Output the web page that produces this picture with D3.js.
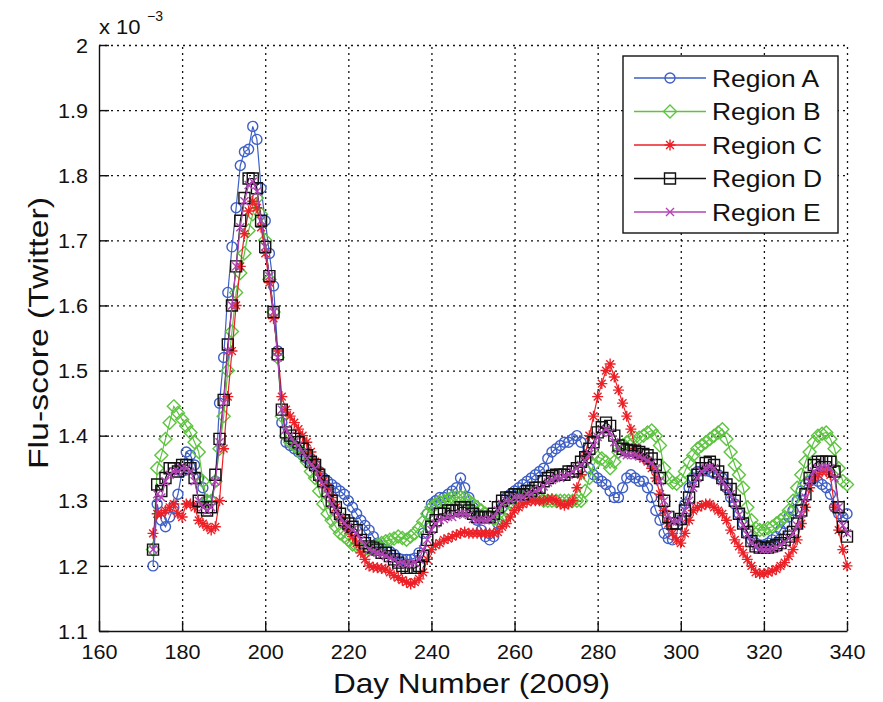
<!DOCTYPE html>
<html><head><meta charset="utf-8">
<script src="https://cdn.jsdelivr.net/npm/d3@7"></script>
<style>
body{margin:0;background:#fff}
svg{display:block}
text{font-family:"Liberation Sans",Arial,Helvetica,sans-serif;fill:#111}
</style>
</head><body>
<svg id="chart" width="883" height="702"></svg>
<script>
// ---------- data (values in units of 1e-3) ----------
const startDay = 173;
const regionA = [
1.20,1.295,1.27,1.26,1.275,1.29,1.31,1.345,1.375,1.37,
1.355,1.335,1.32,1.30,1.30,1.33,1.45,1.52,1.62,1.69,
1.75,1.815,1.836,1.84,1.875,1.855,1.78,1.73,1.68,1.63,
1.53,1.42,1.39,1.385,1.38,1.375,1.37,1.365,1.36,1.355,
1.345,1.335,1.33,1.325,1.32,1.315,1.31,1.30,1.29,1.28,
1.27,1.262,1.255,1.245,1.235,1.228,1.225,1.222,1.218,1.212,
1.21,1.21,1.21,1.212,1.22,1.25,1.28,1.295,1.30,1.305,
1.305,1.31,1.315,1.32,1.335,1.32,1.305,1.29,1.27,1.255,
1.245,1.24,1.245,1.265,1.29,1.305,1.31,1.315,1.32,1.325,
1.33,1.335,1.34,1.345,1.35,1.365,1.375,1.38,1.385,1.39,
1.39,1.395,1.40,1.39,1.37,1.35,1.34,1.335,1.33,1.325,
1.315,1.305,1.305,1.32,1.335,1.34,1.335,1.33,1.33,1.32,
1.305,1.285,1.27,1.25,1.242,1.24,1.25,1.27,1.295,1.32,
1.335,1.345,1.346,1.346,1.345,1.342,1.34,1.335,1.32,1.305,
1.295,1.28,1.265,1.25,1.24,1.235,1.232,1.232,1.235,1.24,
1.245,1.255,1.265,1.275,1.285,1.30,1.315,1.325,1.33,1.335,
1.33,1.325,1.32,1.31,1.29,1.28,1.275,1.28];
const regionB = [
1.225,1.35,1.37,1.395,1.42,1.445,1.435,1.425,1.415,1.405,
1.39,1.375,1.33,1.30,1.30,1.33,1.38,1.43,1.50,1.56,
1.62,1.65,1.68,1.715,1.74,1.765,1.74,1.70,1.64,1.59,
1.52,1.43,1.40,1.39,1.385,1.38,1.37,1.36,1.345,1.335,
1.315,1.295,1.28,1.27,1.26,1.25,1.245,1.24,1.233,1.23,
1.228,1.225,1.225,1.228,1.232,1.235,1.238,1.24,1.242,1.245,
1.243,1.24,1.245,1.25,1.258,1.268,1.28,1.29,1.295,1.298,
1.30,1.302,1.305,1.305,1.305,1.305,1.30,1.295,1.29,1.285,
1.28,1.275,1.272,1.27,1.275,1.285,1.295,1.30,1.305,1.305,
1.31,1.31,1.31,1.305,1.30,1.30,1.30,1.30,1.30,1.30,
1.30,1.30,1.30,1.30,1.315,1.335,1.355,1.367,1.365,1.36,
1.35,1.36,1.375,1.385,1.39,1.395,1.397,1.397,1.40,1.405,
1.408,1.40,1.385,1.35,1.335,1.328,1.326,1.332,1.345,1.36,
1.37,1.38,1.385,1.39,1.395,1.40,1.405,1.41,1.395,1.375,
1.355,1.34,1.32,1.29,1.27,1.258,1.255,1.255,1.258,1.26,
1.265,1.27,1.275,1.285,1.30,1.32,1.34,1.36,1.375,1.39,
1.40,1.403,1.405,1.395,1.38,1.35,1.33,1.325];
const regionC = [
1.25,1.28,1.28,1.285,1.29,1.295,1.28,1.275,1.295,1.295,
1.29,1.27,1.265,1.26,1.255,1.26,1.30,1.38,1.46,1.53,
1.60,1.66,1.71,1.745,1.76,1.75,1.72,1.68,1.635,1.58,
1.53,1.46,1.44,1.43,1.42,1.41,1.40,1.39,1.375,1.36,
1.345,1.33,1.32,1.305,1.29,1.275,1.265,1.255,1.245,1.235,
1.22,1.21,1.20,1.198,1.197,1.196,1.195,1.19,1.185,1.182,
1.178,1.175,1.172,1.175,1.18,1.19,1.21,1.225,1.232,1.235,
1.24,1.242,1.245,1.248,1.25,1.252,1.25,1.25,1.25,1.25,
1.25,1.25,1.25,1.252,1.26,1.265,1.275,1.285,1.29,1.295,
1.298,1.30,1.30,1.30,1.30,1.302,1.303,1.30,1.295,1.293,
1.295,1.30,1.32,1.34,1.37,1.40,1.43,1.46,1.48,1.50,
1.51,1.49,1.47,1.45,1.43,1.41,1.38,1.37,1.365,1.36,
1.35,1.335,1.31,1.285,1.265,1.25,1.24,1.235,1.25,1.27,
1.285,1.29,1.292,1.295,1.295,1.29,1.285,1.28,1.27,1.255,
1.24,1.23,1.22,1.21,1.20,1.19,1.188,1.188,1.19,1.192,
1.195,1.20,1.205,1.215,1.225,1.24,1.265,1.29,1.32,1.335,
1.34,1.345,1.345,1.34,1.29,1.255,1.225,1.20];
const regionD = [
1.225,1.325,1.315,1.335,1.35,1.35,1.345,1.355,1.355,1.35,
1.335,1.30,1.29,1.285,1.29,1.34,1.395,1.455,1.54,1.60,
1.66,1.73,1.765,1.795,1.795,1.78,1.73,1.69,1.645,1.59,
1.525,1.44,1.405,1.40,1.395,1.39,1.38,1.37,1.36,1.355,
1.34,1.33,1.315,1.30,1.29,1.28,1.27,1.265,1.26,1.255,
1.24,1.235,1.23,1.228,1.225,1.22,1.22,1.215,1.21,1.205,
1.20,1.197,1.197,1.197,1.20,1.215,1.24,1.26,1.27,1.28,
1.28,1.285,1.285,1.285,1.29,1.29,1.285,1.28,1.275,1.275,
1.275,1.275,1.28,1.29,1.30,1.305,1.305,1.31,1.31,1.31,
1.315,1.315,1.32,1.32,1.33,1.335,1.338,1.34,1.34,1.34,
1.345,1.345,1.35,1.36,1.367,1.38,1.39,1.405,1.413,1.42,
1.415,1.40,1.385,1.38,1.378,1.377,1.377,1.375,1.372,1.37,
1.365,1.355,1.335,1.30,1.275,1.265,1.265,1.272,1.285,1.305,
1.33,1.34,1.35,1.358,1.36,1.355,1.345,1.335,1.325,1.318,
1.30,1.28,1.265,1.252,1.238,1.23,1.228,1.228,1.228,1.23,
1.232,1.235,1.24,1.245,1.252,1.265,1.285,1.31,1.335,1.355,
1.36,1.36,1.36,1.36,1.345,1.29,1.26,1.245];
const regionE = [
1.225,1.31,1.305,1.33,1.34,1.345,1.345,1.35,1.35,1.345,
1.33,1.30,1.29,1.285,1.29,1.33,1.39,1.45,1.53,1.60,
1.66,1.72,1.76,1.785,1.79,1.775,1.73,1.69,1.645,1.59,
1.52,1.44,1.41,1.40,1.39,1.385,1.375,1.365,1.355,1.35,
1.335,1.325,1.31,1.295,1.285,1.275,1.265,1.26,1.255,1.25,
1.24,1.232,1.225,1.222,1.22,1.218,1.215,1.212,1.21,1.205,
1.205,1.203,1.203,1.205,1.21,1.225,1.24,1.255,1.265,1.27,
1.272,1.275,1.275,1.278,1.28,1.28,1.278,1.272,1.27,1.27,
1.27,1.272,1.275,1.285,1.295,1.30,1.30,1.305,1.305,1.305,
1.31,1.31,1.315,1.318,1.322,1.328,1.332,1.335,1.335,1.338,
1.34,1.345,1.35,1.355,1.362,1.372,1.385,1.398,1.405,1.41,
1.405,1.39,1.38,1.372,1.37,1.37,1.37,1.368,1.365,1.362,
1.358,1.35,1.33,1.30,1.278,1.268,1.268,1.272,1.285,1.30,
1.32,1.335,1.345,1.35,1.352,1.35,1.34,1.33,1.32,1.31,
1.295,1.278,1.262,1.248,1.236,1.23,1.226,1.225,1.225,1.226,
1.228,1.232,1.236,1.242,1.25,1.262,1.28,1.305,1.33,1.345,
1.35,1.352,1.352,1.35,1.335,1.29,1.262,1.25];

const seriesNames = ["Region A","Region B","Region C","Region D","Region E"];
const seriesColors = ["#3e5fc6","#5cc43e","#ec2027","#111111","#b244b4"];
const seriesMarkers = ["circle","diamond","star","square","cross"];
const xTicks = [160,180,200,220,240,260,280,300,320,340];
const yTicks = [1.1,1.2,1.3,1.4,1.5,1.6,1.7,1.8,1.9,2.0];
const yTickLabels = ["1.1","1.2","1.3","1.4","1.5","1.6","1.7","1.8","1.9","2"];
const xTitle = "Day Number (2009)";
const yTitle = "Flu-score (Twitter)";

// ---------- layout ----------
const L = 99, R = 847, T = 45, B = 631;
const svg = d3.select("#chart");
const x = d3.scaleLinear().domain([160,340]).range([L,R]);
const y = d3.scaleLinear().domain([1.1,2.0]).range([B,T]);

function stretch(sel, k){
  sel.each(function(){
    const w = this.getComputedTextLength();
    d3.select(this).attr("textLength", w*k).attr("lengthAdjust","spacingAndGlyphs");
  });
}

// grid
const gx = svg.append("g").attr("transform",`translate(0,${B})`)
  .call(d3.axisBottom(x).tickValues(xTicks.slice(1)).tickSize(-(B-T)).tickFormat(""));
gx.select(".domain").remove();
gx.selectAll("line").attr("stroke","#111").attr("stroke-width",1.3).attr("stroke-dasharray","2,4");
const gy = svg.append("g").attr("transform",`translate(${L},0)`)
  .call(d3.axisLeft(y).tickValues(yTicks.slice(1)).tickSize(-(R-L)).tickFormat(""));
gy.select(".domain").remove();
gy.selectAll("line").attr("stroke","#111").attr("stroke-width",1.3).attr("stroke-dasharray","2,4");

// axes
const ax = svg.append("g").attr("transform",`translate(0,${B})`)
  .call(d3.axisBottom(x).tickValues(xTicks).tickSizeInner(-10).tickSizeOuter(0));
ax.select(".domain").attr("stroke","#111").attr("stroke-width",1.4);
ax.selectAll("line").attr("stroke","#111").attr("stroke-width",1.4);
ax.selectAll("text").attr("y",28).attr("dy",null).attr("font-size",20).attr("fill","#111");
stretch(ax.selectAll("text"),1.08);

const ay = svg.append("g").attr("transform",`translate(${L},0)`)
  .call(d3.axisLeft(y).tickValues(yTicks).tickSizeInner(-10).tickSizeOuter(0)
    .tickFormat((d,i)=>yTickLabels[i]));
ay.select(".domain").attr("stroke","#111").attr("stroke-width",1.4);
ay.selectAll("line").attr("stroke","#111").attr("stroke-width",1.4);
ay.selectAll("text").attr("x",-11).attr("dy","0.36em").attr("font-size",20).attr("fill","#111");
stretch(ay.selectAll("text"),1.08);

// exponent label
const ex = svg.append("text").attr("x",99).attr("y",34).attr("font-size",20).text("x 10");
stretch(ex,1.1);
svg.append("text").attr("x",147).attr("y",21).attr("font-size",14).text("\u22123");

// titles
svg.append("text").attr("x",471.5).attr("y",693).attr("text-anchor","middle")
  .attr("font-size",28).attr("textLength",277).attr("lengthAdjust","spacingAndGlyphs").text(xTitle);
svg.append("text").attr("transform","translate(48,333) rotate(-90)").attr("text-anchor","middle")
  .attr("font-size",28).attr("textLength",272).attr("lengthAdjust","spacingAndGlyphs").text(yTitle);

// markers
function markerPath(type){
  switch(type){
    case "circle": return d3.symbol().type(d3.symbolCircle).size(Math.PI*25)();
    case "diamond": return "M0,-6.5L6.5,0L0,6.5L-6.5,0Z";
    case "star": return "M-5.5,0H5.5M0,-5.5V5.5M-3.9,-3.9L3.9,3.9M-3.9,3.9L3.9,-3.9";
    case "square": return "M-5.5,-5.5H5.5V5.5H-5.5Z";
    case "cross": return "M-4,-4L4,4M-4,4L4,-4";
  }
}

const allSeries = [regionA,regionB,regionC,regionD,regionE];
const line = d3.line().x((d,i)=>x(startDay+i)).y(d=>y(d));
const plot = svg.append("g");
allSeries.forEach((vals,si)=>{
  const g = plot.append("g");
  g.append("path").attr("d",line(vals)).attr("fill","none")
    .attr("stroke",seriesColors[si]).attr("stroke-width",1.2);
  g.selectAll("path.m").data(vals).join("path").attr("class","m")
    .attr("transform",(d,i)=>`translate(${x(startDay+i)},${y(d)})`)
    .attr("d",markerPath(seriesMarkers[si]))
    .attr("fill","none").attr("stroke",seriesColors[si]).attr("stroke-width",1.4);
});

// legend
const lg = svg.append("g");
lg.append("rect").attr("x",623).attr("y",56).attr("width",215).attr("height",177)
  .attr("fill","#fff").attr("stroke","#111").attr("stroke-width",1.4);
const rowY = [78,111.5,145,178.5,212];
seriesNames.forEach((name,i)=>{
  lg.append("line").attr("x1",634).attr("x2",706).attr("y1",rowY[i]).attr("y2",rowY[i])
    .attr("stroke",seriesColors[i]).attr("stroke-width",1.3);
  lg.append("path").attr("transform",`translate(670,${rowY[i]})`).attr("d",markerPath(seriesMarkers[i]))
    .attr("fill","none").attr("stroke",seriesColors[i]).attr("stroke-width",1.4);
  const t = lg.append("text").attr("x",712).attr("y",rowY[i]+8.5).attr("font-size",24).text(name);
  stretch(t,1.1);
});
</script>
</body></html>
